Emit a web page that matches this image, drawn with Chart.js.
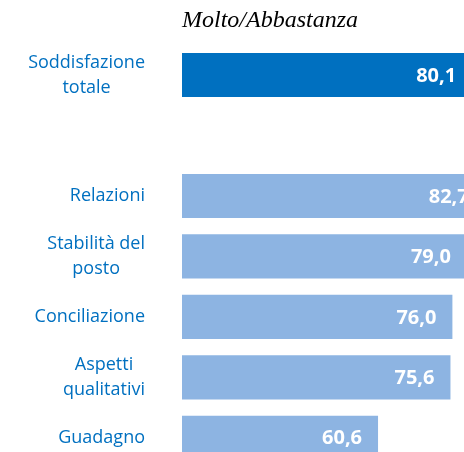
<!DOCTYPE html>
<html>
<head>
<meta charset="utf-8">
<script src="https://cdn.jsdelivr.net/npm/chart.js@4.4.0/dist/chart.umd.min.js"></script>
<style>
  html, body { margin: 0; padding: 0; background: #fff; overflow: hidden; }
  #wrap { position: relative; width: 520px; height: 470px; }
</style>
</head>
<body>
<div id="wrap"><canvas id="chart"></canvas></div>
<script>
// Categories (empty slot separates the total from the items)
const categories = [
    ['Soddisfazione', 'totale'],
    '',
    'Relazioni',
    ['Stabilità del', 'posto'],
    'Conciliazione',
    ['Aspetti', 'qualitativi'],
    'Guadagno'
];
const values = [80.1, null, 82.7, 79.0, 76.0, 75.6, 60.6];
const barColors = ['#0070C0', '#0070C0', '#8DB4E2', '#8DB4E2', '#8DB4E2', '#8DB4E2', '#8DB4E2'];
const titleText = 'Molto/Abbastanza';

const blue = '#0070C0';

// value labels inside the bar end, Italian decimal comma
const valueLabels = {
    id: 'valueLabels',
    afterDatasetsDraw(chart) {
        const ctx = chart.ctx;
        const meta = chart.getDatasetMeta(0);
        ctx.save();
        ctx.font = 'bold 20px "Open Sans"';
        ctx.fillStyle = '#ffffff';
        ctx.textAlign = 'right';
        ctx.textBaseline = 'middle';
        meta.data.forEach((bar, i) => {
            if (values[i] == null) return;
            ctx.fillText(values[i].toFixed(1).replace('.', ','), bar.x - 16, bar.y + 1);
        });
        ctx.restore();
    }
};

// category labels: block right-aligned, lines centred within the block
const categoryLabels = {
    id: 'categoryLabels',
    afterDraw(chart) {
        const ctx = chart.ctx;
        const yScale = chart.scales.y;
        const right = 145;
        const lineH = 25;
        ctx.save();
        ctx.font = '18px "Open Sans"';
        ctx.fillStyle = blue;
        ctx.textAlign = 'center';
        ctx.textBaseline = 'middle';
        categories.forEach((cat, i) => {
            const lines = Array.isArray(cat) ? cat : [cat];
            if (!lines[0]) return;
            const w = Math.max(...lines.map(l => ctx.measureText(l).width));
            const cx = right - w / 2;
            const cy = yScale.getPixelForValue(i);
            const y0 = cy - (lines.length - 1) * lineH / 2;
            lines.forEach((l, j) => ctx.fillText(l, cx, y0 + j * lineH));
        });
        ctx.restore();
    }
};

new Chart(document.getElementById('chart'), {
    type: 'bar',
    data: {
        labels: categories,
        datasets: [{
            data: values,
            backgroundColor: barColors,
            borderWidth: 0,
            barPercentage: 0.73,
            categoryPercentage: 1
        }]
    },
    options: {
        indexAxis: 'y',
        responsive: true,
        maintainAspectRatio: false,
        animation: false,
        layout: {
            padding: { left: 182, right: 0, top: 0, bottom: 2 }
        },
        plugins: {
            legend: { display: false },
            tooltip: { enabled: false },
            title: {
                display: true,
                text: titleText,
                align: 'start',
                fullSize: false,
                color: '#000',
                font: { family: '"Liberation Serif"', style: 'italic', weight: 'normal', size: 24, lineHeight: 1.2 },
                padding: { top: 6, bottom: 10 }
            }
        },
        scales: {
            x: {
                display: false,
                min: 20,
                max: 90
            },
            y: {
                display: false,
                grid: { display: false }
            }
        }
    },
    plugins: [valueLabels, categoryLabels]
});
</script>
</body>
</html>
